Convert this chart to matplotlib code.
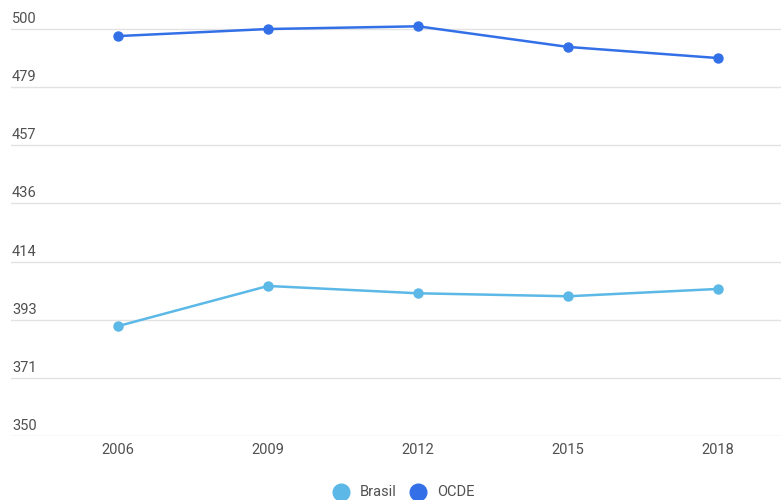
import matplotlib
matplotlib.use("Agg")
import matplotlib.pyplot as plt
from matplotlib.lines import Line2D
import matplotlib.transforms as mtransforms

years = ["2006", "2009", "2012", "2015", "2018"]
brasil = [390.5, 405.3, 402.6, 401.5, 404.2]
ocde = [497.4, 500.0, 501.0, 493.4, 489.3]
ytick_vals = [350 + 150 / 7 * i for i in range(8)]
ytick_labels = ["350", "371", "393", "414", "436", "457", "479", "500"]
series_names = ["Brasil", "OCDE"]

c_br = "#5cb8e6"
c_oc = "#3370e8"
txt = "#505050"
plt.rcParams['font.family'] = ['Roboto', 'DejaVu Sans']

W, H = 781, 500
fig = plt.figure(figsize=(W / 100, H / 100), dpi=100)
ax = fig.add_axes([11 / W, (H - 436) / H, (781 - 11) / W, 436 / H])
x = list(range(len(years)))
ax.set_xlim(-(118 - 11) / 150, 4 + (781 - 718) / 150)
px_per_unit = 58.14 / (150 / 7)
ax.set_ylim(350, 350 + 436 / px_per_unit)

for v in ytick_vals:
    ax.axhline(v, color="#e2e2e2", lw=1, zorder=0)
trans = mtransforms.blended_transform_factory(ax.transAxes, ax.transData)
for v, lab in zip(ytick_vals, ytick_labels):
    ax.annotate(lab, xy=(0, v), xycoords=trans, xytext=(0.8, 2.2), textcoords="offset points",
                ha="left", va="bottom", fontsize=10.5, color=txt)

ax.plot(x, brasil, color=c_br, lw=1.8, marker="o", ms=6.5, zorder=3, clip_on=False)
ax.plot(x, ocde, color=c_oc, lw=1.8, marker="o", ms=6.5, zorder=3, clip_on=False)

ax.set_xticks(x)
ax.set_xticklabels(years, fontsize=10.5, color=txt)
ax.tick_params(axis="x", length=0, pad=5)
ax.set_yticks([])
for s in ax.spines.values():
    s.set_visible(False)

# legend
for name, col, mx, tx in [(series_names[0], c_br, 341, 360), (series_names[1], c_oc, 418, 437)]:
    fig.add_artist(Line2D([mx / W], [(H - 492) / H], transform=fig.transFigure, ls="",
                          marker="o", ms=12, color=col))
    fig.text(tx / W, (H - 492) / H, name, ha="left", va="center", fontsize=10.5, color=txt)

fig.savefig("out.png", dpi=100)
